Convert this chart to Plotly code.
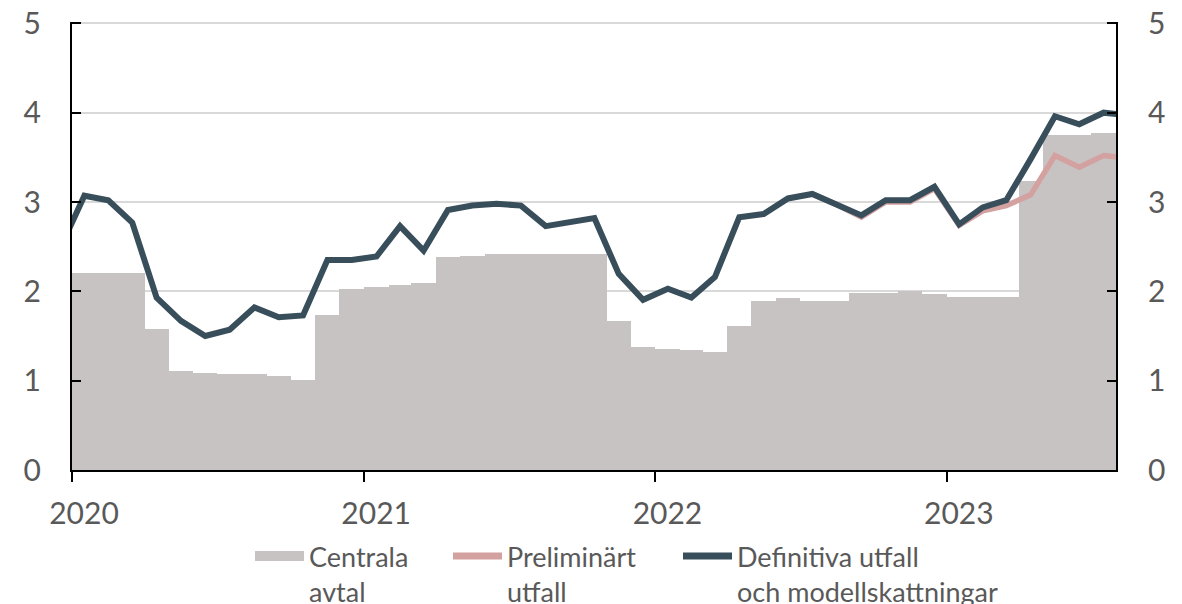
import pandas as pd
import plotly.graph_objects as go

# ---- data ----
bar_months = pd.date_range("2020-01-01", "2023-07-01", freq="MS")
centrala_avtal = [
    2.20, 2.20, 2.20, 1.58, 1.11, 1.09, 1.07, 1.07, 1.05, 1.01, 1.73, 2.03,
    2.05, 2.07, 2.09, 2.38, 2.40, 2.42, 2.42, 2.42, 2.42, 2.42, 1.67, 1.38,
    1.36, 1.34, 1.32, 1.61, 1.89, 1.92, 1.89, 1.89, 1.98, 1.98, 2.00, 1.97,
    1.94, 1.94, 1.94, 3.23, 3.75, 3.75, 3.77,
]

def_months = pd.date_range("2019-12-01", "2023-08-01", freq="MS")
definitiva = [
    2.47,
    3.07, 3.02, 2.77, 1.93, 1.67, 1.50, 1.57, 1.82, 1.71, 1.73, 2.35, 2.35,
    2.39, 2.73, 2.455, 2.91, 2.96, 2.98, 2.96, 2.73, 2.78, 2.82, 2.195, 1.905,
    2.03, 1.93, 2.16, 2.83, 2.865, 3.04, 3.09, 2.97, 2.85, 3.02, 3.02, 3.17,
    2.75, 2.94, 3.02, 3.48, 3.96, 3.87, 4.00, 3.97,
]

prel_months = pd.date_range("2022-07-01", "2023-08-01", freq="MS")
preliminart = [3.09, 2.97, 2.83, 3.00, 3.00, 3.15, 2.74, 2.90, 2.96, 3.08,
               3.52, 3.39, 3.52, 3.49]

year_ticks = pd.to_datetime(["2020-01-01", "2021-01-01", "2022-01-01", "2023-01-01"])
year_labels = ["2020", "2021", "2022", "2023"]
y_ticks = [0, 1, 2, 3, 4, 5]

names = ["Centrala<br>avtal", "Preliminärt<br>utfall",
         "Definitiva utfall<br>och modellskattningar"]

# ---- styles ----
BAR_C = "#c8c3c3"
PINK_C = "#d3a19f"
DARK_C = "#384e5b"
TXT_C = "#595959"
FONT = "Lato"

month_ends = bar_months + pd.offsets.MonthBegin(1)
widths_ms = [(e - s).total_seconds() * 1000 for s, e in zip(bar_months, month_ends)]
mids = [s + (e - s) / 2 for s, e in zip(bar_months, month_ends)]

fig = go.Figure()
fig.add_trace(go.Bar(
    x=mids, y=centrala_avtal, width=widths_ms, marker_color=BAR_C,
    marker_line_width=0, name=names[0], showlegend=False,
))
fig.add_trace(go.Scatter(
    x=prel_months, y=preliminart, xperiod="M1", xperiodalignment="middle",
    mode="lines", line=dict(color=PINK_C, width=5.5), name=names[1],
    showlegend=False,
))
fig.add_trace(go.Scatter(
    x=def_months, y=definitiva, xperiod="M1", xperiodalignment="middle",
    mode="lines", line=dict(color=DARK_C, width=6), name=names[2],
    showlegend=False,
))
# invisible trace to activate right axis
fig.add_trace(go.Scatter(
    x=def_months, y=definitiva, xperiod="M1", xperiodalignment="middle",
    yaxis="y2", mode="lines", line=dict(width=0), opacity=0,
    showlegend=False, hoverinfo="skip",
))

# legend-only entries (one legend each for precise placement)
leg_specs = [(names[0], BAR_C, 15, "legend"),
             (names[1], PINK_C, 7, "legend2"),
             (names[2], DARK_C, 7, "legend3")]
for nm, col, lw, lg in leg_specs:
    fig.add_trace(go.Scatter(
        x=[None], y=[None], mode="lines", name=nm,
        line=dict(color=col, width=lw), legend=lg, showlegend=True,
    ))

axis_font = dict(family=FONT, size=30, color=TXT_C)
OFF = 8  # page body margin
L, R, T, B = 72 - OFF, 1182 - 1116 + OFF, 22 - OFF, 604 - 470 + OFF
PW = 1182 - L - R
PH = 604 - T - B
Y_RANGE = [0, 5.015]


def leg(page_x):
    fx = page_x - OFF - 5
    fy = 532 - OFF
    return dict(
        orientation="h", x=(fx - L) / PW, xanchor="left",
        y=(T + PH - fy) / PH, yanchor="top",
        font=dict(family=FONT, size=27, color=TXT_C), valign="top",
        itemwidth=49, bgcolor="rgba(0,0,0,0)",
    )


fig.update_layout(
    width=1182, height=604,
    margin=dict(l=L, r=R, t=T, b=B, autoexpand=False),
    plot_bgcolor="white", paper_bgcolor="white",
    bargap=0,
    showlegend=True,
    legend=leg(255),
    legend2=leg(453),
    legend3=leg(683),
    xaxis=dict(
        type="date",
        range=["2020-01-01", "2023-08-01"],
        tickvals=year_ticks, ticktext=year_labels,
        ticks="outside", ticklen=10, tickwidth=2, tickcolor="black",
        showline=True, linecolor="black", linewidth=2,
        showgrid=False, zeroline=False, automargin=False,
        tickfont=axis_font, ticklabelshift=12, ticklabelstandoff=6,
        ticklabeloverflow="allow",
    ),
    yaxis=dict(
        range=Y_RANGE, tickvals=y_ticks,
        ticks="inside", ticklen=9, tickwidth=2, tickcolor="black",
        showline=True, linecolor="black", linewidth=2,
        showgrid=True, gridcolor="#d9d9d9", gridwidth=1.5,
        zeroline=False, tickfont=axis_font, ticklabelstandoff=23,
        automargin=False, ticklabeloverflow="allow",
    ),
    yaxis2=dict(
        range=Y_RANGE, tickvals=y_ticks, overlaying="y", side="right",
        ticks="inside", ticklen=9, tickwidth=2, tickcolor="black",
        showline=True, linecolor="black", linewidth=2,
        showgrid=False, zeroline=False, tickfont=axis_font,
        ticklabelstandoff=24, automargin=False, ticklabeloverflow="allow",
    ),
)

fig.write_html("out.html")
